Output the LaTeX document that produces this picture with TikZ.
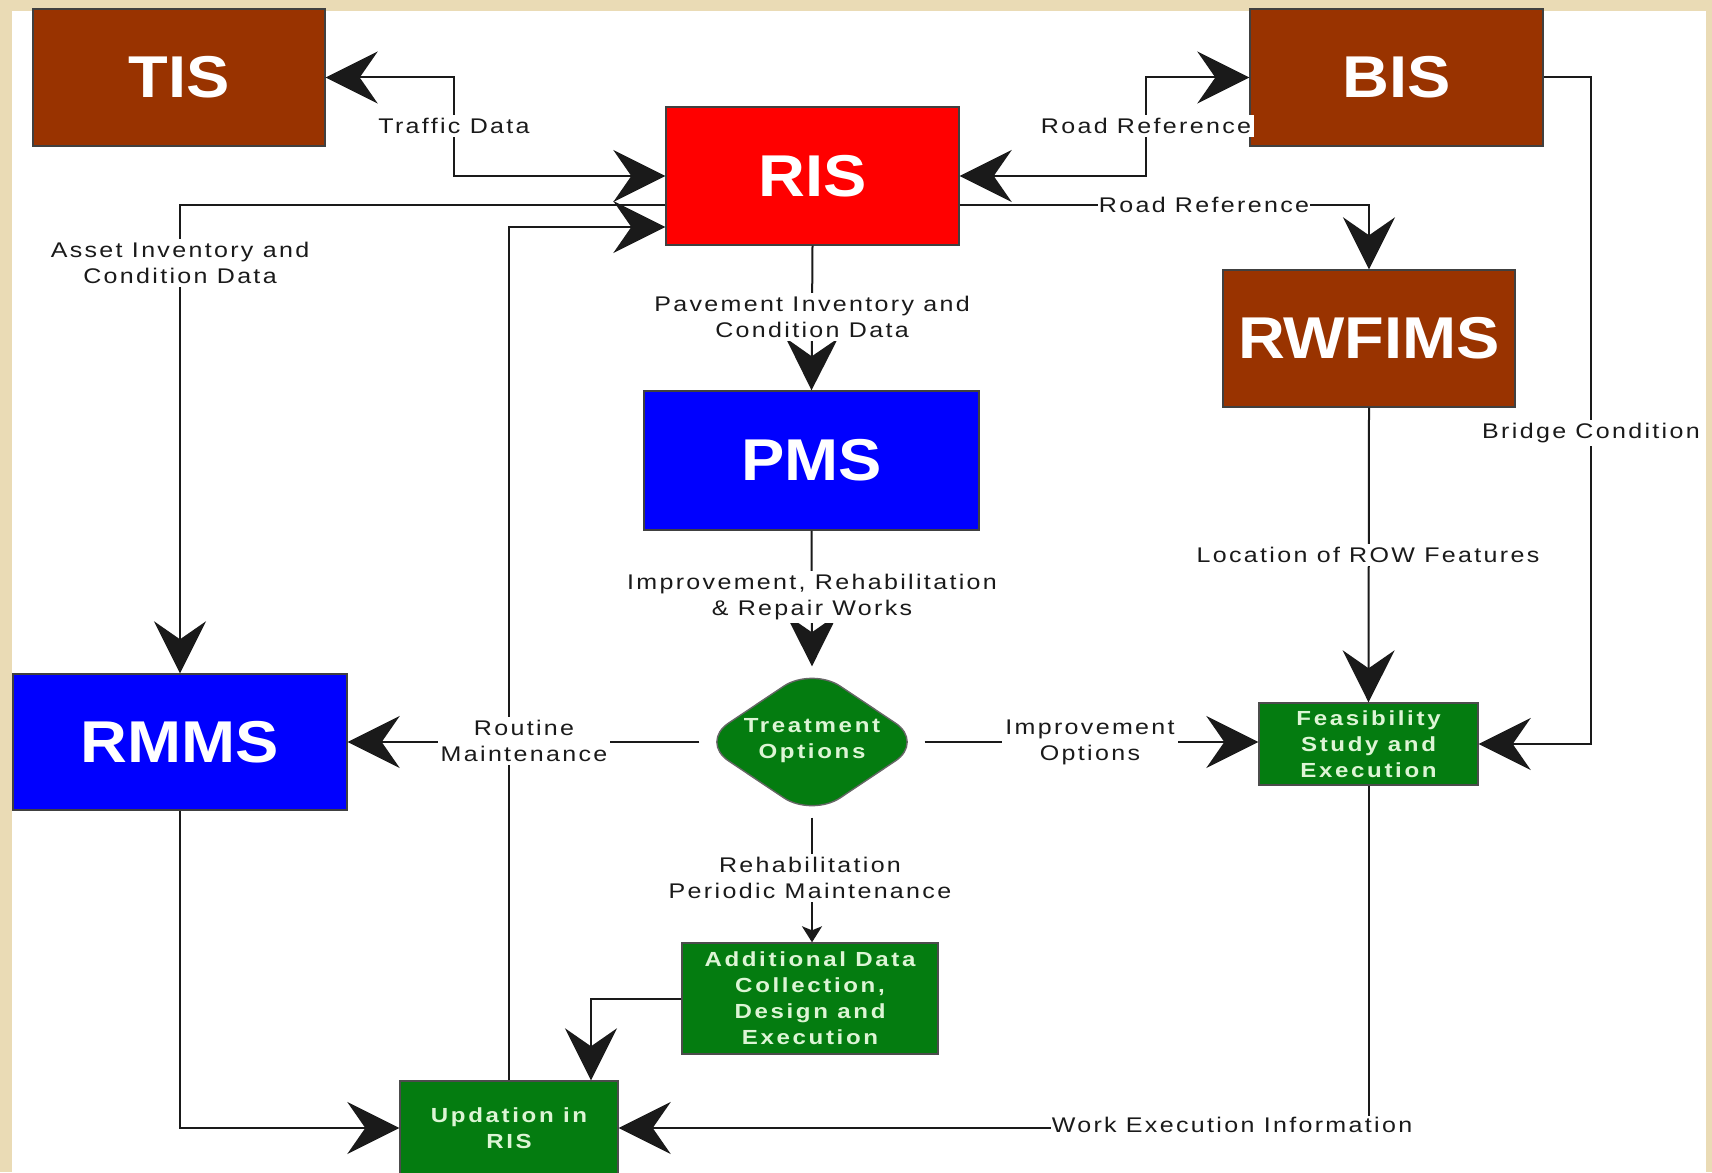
\documentclass[tikz,border=0pt]{standalone}
\usepackage{fontspec}
\usetikzlibrary{arrows.meta,shapes.geometric}

\newfontfamily\lblfont{Liberation Sans}[FakeStretch=1.18,LetterSpace=11]
\newfontfamily\grnfont{Liberation Sans}[FakeStretch=1.18,LetterSpace=13]
\newfontfamily\ttlfont{Liberation Sans}[FakeStretch=1.1]

\definecolor{parch}{HTML}{EADBB5}
\definecolor{brownbox}{HTML}{993300}
\definecolor{redbox}{HTML}{FF0000}
\definecolor{bluebox}{HTML}{0000FF}
\definecolor{greenbox}{HTML}{047C10}
\definecolor{greentext}{HTML}{DDF5D5}
\definecolor{ink}{HTML}{1A1A1A}

\tikzset{
  sysbox/.style={draw=black!75, line width=0.7pt, inner sep=0pt, text=white,
    font={\ttlfont\bfseries\fontsize{29.5}{32}\selectfont}},
  brownsys/.style={sysbox, fill=brownbox},
  redsys/.style={sysbox, fill=redbox},
  bluesys/.style={sysbox, fill=bluebox},
  greenbox/.style={draw=black!70, line width=0.7pt, fill=greenbox, inner sep=0pt,
    text=greentext, align=center,
    font={\grnfont\bfseries\fontsize{10.2}{13}\selectfont}},
  decision/.style={diamond, draw=black!60, line width=0.7pt, fill=greenbox,
    inner sep=0pt, rounded corners=17pt},
  lbl/.style={fill=white, inner sep=1.5pt, text=ink, align=center,
    font={\lblfont\fontsize{10.6}{13}\selectfont}},
  conn/.style={draw=ink, line width=1pt},
  bigtip/.tip={Stealth[length=26pt,width=26pt,inset=9pt]},
  arr/.style={conn, -bigtip},
  arrboth/.style={conn, bigtip-bigtip},
  arrsmall/.style={conn, -{Stealth[length=8pt,width=10pt,inset=2pt]}},
}

\begin{document}
\begin{tikzpicture}[x=0.5pt, y=-0.5pt]
  % page: parchment frame with white sheet
  \useasboundingbox (0,0) rectangle (1712,1172);
  \fill[parch] (0,0) rectangle (1712,1172);
  \fill[white] (12,11) rectangle (1706,1172);

  % information systems
  \node[brownsys, minimum width=146pt, minimum height=68.5pt] (tis) at (179,77.5) {TIS};
  \node[brownsys, minimum width=146.5pt, minimum height=68.5pt] (bis) at (1396.5,77.5) {BIS};
  \node[redsys, minimum width=146.5pt, minimum height=69pt] (ris) at (812.5,176) {RIS};
  \node[brownsys, minimum width=146pt, minimum height=68.5pt] (rwf) at (1369,338.5) {RWFIMS};
  \node[bluesys, minimum width=167.5pt, minimum height=69.5pt] (pms) at (811.5,460.5) {PMS};
  \node[bluesys, minimum width=167pt, minimum height=68pt] (rmms) at (180,742) {RMMS};

  % decision and work boxes
  \node[decision, minimum width=112pt, minimum height=75pt] (treat) at (812,742) {};
  \node[text=greentext, align=center, font={\grnfont\bfseries\fontsize{10.2}{13}\selectfont}] (treattxt) at (812,741) {Treatment\\Options};
  \node[greenbox, minimum width=109.5pt, minimum height=41pt] (feas) at (1368.5,744) {Feasibility\\Study and\\Execution};
  \node[greenbox, minimum width=128pt, minimum height=55.5pt] (add) at (810,998.5) {Additional Data\\Collection,\\Design and\\Execution};
  \node[greenbox, minimum width=109pt, minimum height=47pt] (upd) at (509,1128) {Updation in\\RIS};

  % connectors
  \draw[arrboth] (tis.east) -| (454,126) |- (ris.west);
  \draw[arrboth] (ris.east) -| (1146,126) |- (bis.west);
  \draw[arr] ([yshift=-14.5pt]ris.east) -| (rwf.north);
  \draw[arr] ([yshift=-14.5pt]ris.west) -| (rmms.north);
  \draw[arr] (upd.north) |- ([yshift=-25.5pt]ris.west);
  \draw[arr] (ris.south) -- (pms.north);
  \draw[arr] (pms.south) -- (treat.north);
  \draw[arr] (treat.west) -- (rmms.east);
  \draw[arr] (treat.east) -- (treat.east -| feas.west);
  \draw[arrsmall] (treat.south) -- (treat.south |- add.north);
  \draw[arr] (add.west) -| ([xshift=41pt]upd.north);
  \draw[arr] (rmms.south) |- (upd.west);
  \draw[arr] (feas.south) |- (upd.east);
  \draw[arr] (rwf.south) -- (feas.north);
  \draw[arr] (bis.east) -| (1591,433) |- (feas.east);

  % connector labels
  \node[lbl] (ltraffic) at (454,126) {Traffic Data};
  \node[lbl] (lroadref) at (1146,126) {Road Reference};
  \node[lbl, inner sep=0.5pt] (lroadref2) at (1204,205) {Road Reference};
  \node[lbl] (lasset) at (180,263) {Asset Inventory and\\Condition Data};
  \node[lbl] (lpave) at (812,317) {Pavement Inventory and\\Condition Data};
  \node[lbl] (limprove) at (812,597) {Improvement, Rehabilitation\\\& Repair Works};
  \node[lbl] (lroutine) at (524,741) {Routine\\Maintenance};
  \node[lbl] (lopts) at (1090,742) {Improvement\\Options};
  \node[lbl] (lrehab) at (810,878) {Rehabilitation\\Periodic Maintenance};
  \node[lbl] (lrow) at (1368,555) {Location of ROW Features};
  \node[lbl] (lbridge) at (1591,433) {Bridge Condition};
  \node[lbl, inner sep=0.5pt] (lwork) at (1232,1125) {Work Execution Information};
\end{tikzpicture}
\end{document}
